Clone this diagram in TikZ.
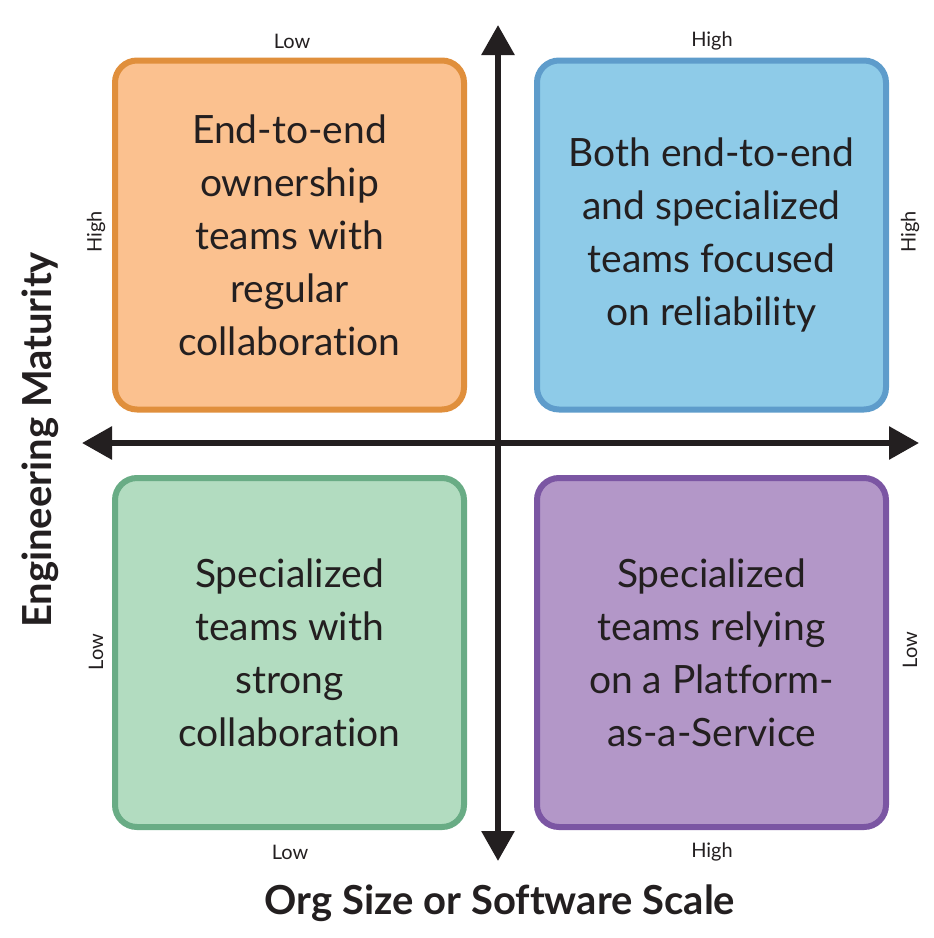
\documentclass[tikz,border=0pt]{standalone}
\usepackage{fontspec}
\setmainfont{Lato}[Ligatures=NoCommon]
\usetikzlibrary{arrows.meta}
\definecolor{ownfill}{HTML}{FBC18F}
\definecolor{owndraw}{HTML}{E08F3C}
\definecolor{bothfill}{HTML}{8ECBE8}
\definecolor{bothdraw}{HTML}{5E9CCB}
\definecolor{specfill}{HTML}{B2DCC0}
\definecolor{specdraw}{HTML}{69AC85}
\definecolor{platfill}{HTML}{B397C8}
\definecolor{platdraw}{HTML}{7B56A3}
\definecolor{axisink}{HTML}{231F20}

\begin{document}
\begin{tikzpicture}[x=0.5pt,y=-0.5pt,>={Triangle[length=15pt,width=16pt]},
  quad/.style={draw=#1draw,fill=#1fill,line width=3pt,rounded corners=11pt,
    minimum width=174.5pt,minimum height=174.5pt,align=center,text=axisink,
    font=\fontsize{19.5}{26.5}\selectfont},
  axis/.style={line width=3pt,color=axisink},
  tick/.style={font=\fontsize{10}{12}\selectfont,text=axisink},
  title/.style={font=\fontsize{20}{24}\selectfont\bfseries,text=axisink}]
\useasboundingbox (0,0) rectangle (933,938);
\node[quad=own] (ownership) at (289.5,235) {End-to-end\\ownership\\teams with\\regular\\collaboration};
\node[quad=both] (both) at (711.5,235) {Both end-to-end\\and specialized\\teams focused\\on reliability};
\node[quad=spec] (specialized) at (289.5,652.5) {Specialized\\teams with\\strong\\collaboration};
\node[quad=plat] (platform) at (711.5,652.5) {Specialized\\teams relying\\on a Platform-\\as-a-Service};
\coordinate (top) at (498,25);
\coordinate (bottom) at (498,861);
\coordinate (left) at (82,443);
\coordinate (right) at (919,443);
\draw[axis,<->] (bottom) -- (top);
\draw[axis,<->] (left) -- (right);
\node[tick] (lowtop) at (292,41) {Low};
\node[tick] (hightop) at (712,41) {High};
\node[tick] (lowbot) at (290,852) {Low};
\node[tick] (highbot) at (712,852) {High};
\node[tick,rotate=90] (highleft) at (96,232) {High};
\node[tick,rotate=90] (lowleft) at (96,652) {Low};
\node[tick,rotate=90] (highright) at (910,232) {High};
\node[tick,rotate=90] (lowright) at (910,650) {Low};
\node[title,rotate=90] (maturity) at (40,440) {Engineering Maturity};
\node[title] (scale) at (500,903) {Org Size or Software Scale};
\end{tikzpicture}
\end{document}
